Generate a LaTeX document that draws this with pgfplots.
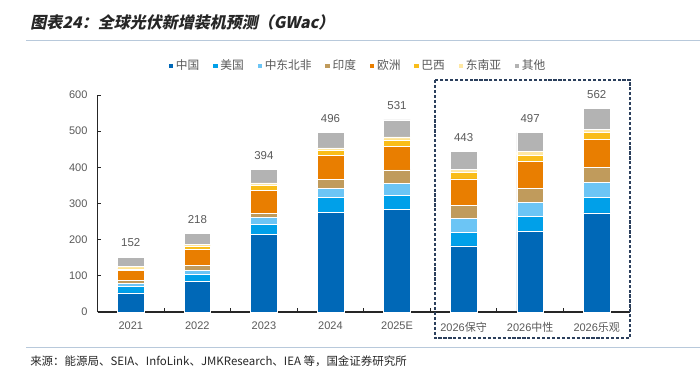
\documentclass[border=0pt]{standalone}
\usepackage{fontspec}
\setmainfont{Liberation Sans}
\newfontfamily\cjk{Noto Sans CJK SC}
\newfontfamily\titlefont[FakeSlant=0.2]{Noto Sans CJK SC}
\usepackage{pgfplots}
\usepackage{pgfplotstable}
\pgfplotsset{compat=1.18}
\definecolor{cChina}{HTML}{0068B7}
\definecolor{cUS}{HTML}{00A0E9}
\definecolor{cMENA}{HTML}{6CC5F5}
\definecolor{cIndia}{HTML}{C09B5C}
\definecolor{cEurope}{HTML}{E97E00}
\definecolor{cBrazil}{HTML}{F9BD1A}
\definecolor{cSEA}{HTML}{FFE8A3}
\definecolor{cOther}{HTML}{B3B3B3}
\definecolor{txt}{HTML}{595959}
\definecolor{rulec}{HTML}{B8C9DB}
\definecolor{navy}{HTML}{2B3F5C}

\pgfplotstableread{
x China US MENA India Europe Brazil SEA Other Total
0 53 18 7 9 28 4 7 26 152
1 85 18 12 13 44 11 3 32 218
2 215 28 19 11 63 14 7 37 394
3 276 41 24 25 66 15 7 42 496
4 283 40 33 37 66 17 8 47 531
5 183 38 37 36 74 17 9 49 443
6 223 41 38 39 76 17 9 54 497
7 274 42 42 42 78 18 9 57 562
}\data

\pgfplotsset{
  common/.style={
    scale only axis,
    width=399.4pt, height=162.75pt,
    xmin=-0.5, xmax=7.5, ymin=0, ymax=600,
    enlargelimits=false,
  }
}

\begin{document}
\begin{tikzpicture}
\path[use as bounding box] (0,0) rectangle (525pt,-275.25pt);

\node[anchor=west, inner sep=0, text=black!85, font=\titlefont\bfseries\fontsize{12}{14}\selectfont] at (30*0.75pt,-22*0.75pt) {图表24：全球光伏新增装机预测（GWac）};
\draw[rulec, line width=1.1pt] (26*0.75pt,-40.5*0.75pt) -- (525pt,-40.5*0.75pt);
\draw[rulec, line width=1.1pt] (26*0.75pt,-347.3*0.75pt) -- (525pt,-347.3*0.75pt);
\node[anchor=west, inner sep=0, text=black!85, font=\cjk\fontsize{8.6}{10}\selectfont] at (30*0.75pt,-361*0.75pt) {来源：能源局、SEIA、InfoLink、JMKResearch、IEA 等，国金证券研究所};

\begin{axis}[common,
  at={(97.5*0.75pt,-312*0.75pt)}, anchor=south west,
  ybar stacked, bar width=20pt,
  axis x line*=bottom, axis y line*=left,
  axis line style={black!85, line width=0.8pt},
  tick align=inside, major tick length=2.5pt, minor tick length=3pt,
  ytick={0,100,...,600},
  xtick={0,...,7},
  xticklabels={2021,2022,2023,2024,2025E,{2026{\cjk 保守}},{2026{\cjk 中性}},{2026{\cjk 乐观}}},
  minor xtick={-0.5,0.5,...,7.5},
  major x tick style={draw=none},
  minor x tick style={black!85, line width=0.7pt},
  y tick style={black!85, line width=0.7pt},
  /pgf/number format/assume math mode=true,
  tick label style={font=\fontsize{8.25}{10}\selectfont, text=txt},
  yticklabel style={xshift=-4pt},
  xticklabel style={yshift=-4pt},
  legend columns=8,
  legend style={at={(axis description cs:0.5,1)}, anchor=center, yshift=21.75pt, xshift=-4pt,
    draw=none, font=\cjk\fontsize{8.8}{10}\selectfont, text=txt,
    /tikz/every odd column/.append style={column sep=0pt},
    /tikz/every even column/.append style={column sep=8.3pt}},
  legend image code/.code={\fill[#1, draw=none] (0pt,-1.7pt) rectangle (3.4pt,1.7pt);},
  every axis plot/.append style={draw=white, line width=0.45pt},
]
\addplot[fill=cChina] table[x=x,y=China]{\data};
\addlegendentry{中国}
\addplot[fill=cUS] table[x=x,y=US]{\data};
\addlegendentry{美国}
\addplot[fill=cMENA] table[x=x,y=MENA]{\data};
\addlegendentry{中东北非}
\addplot[fill=cIndia] table[x=x,y=India]{\data};
\addlegendentry{印度}
\addplot[fill=cEurope] table[x=x,y=Europe]{\data};
\addlegendentry{欧洲}
\addplot[fill=cBrazil] table[x=x,y=Brazil]{\data};
\addlegendentry{巴西}
\addplot[fill=cSEA] table[x=x,y=SEA]{\data};
\addlegendentry{东南亚}
\addplot[fill=cOther] table[x=x,y=Other]{\data};
\addlegendentry{其他}
\end{axis}

\begin{axis}[common,
  at={(97.5*0.75pt,-312*0.75pt)}, anchor=south west,
  hide axis,
]
\addplot[draw=none, mark=none, nodes near coords,
  every node near coord/.append style={anchor=center, yshift=10.5pt, text=txt, font=\fontsize{8.6}{10}\selectfont},
  /pgf/number format/assume math mode=true]
  table[x=x,y=Total]{\data};
\end{axis}

\draw[navy, line width=0.9pt, dash pattern=on 2.4pt off 1.3pt] (435*0.75pt,-80*0.75pt) rectangle (630*0.75pt,-338*0.75pt);
\end{tikzpicture}
\end{document}
